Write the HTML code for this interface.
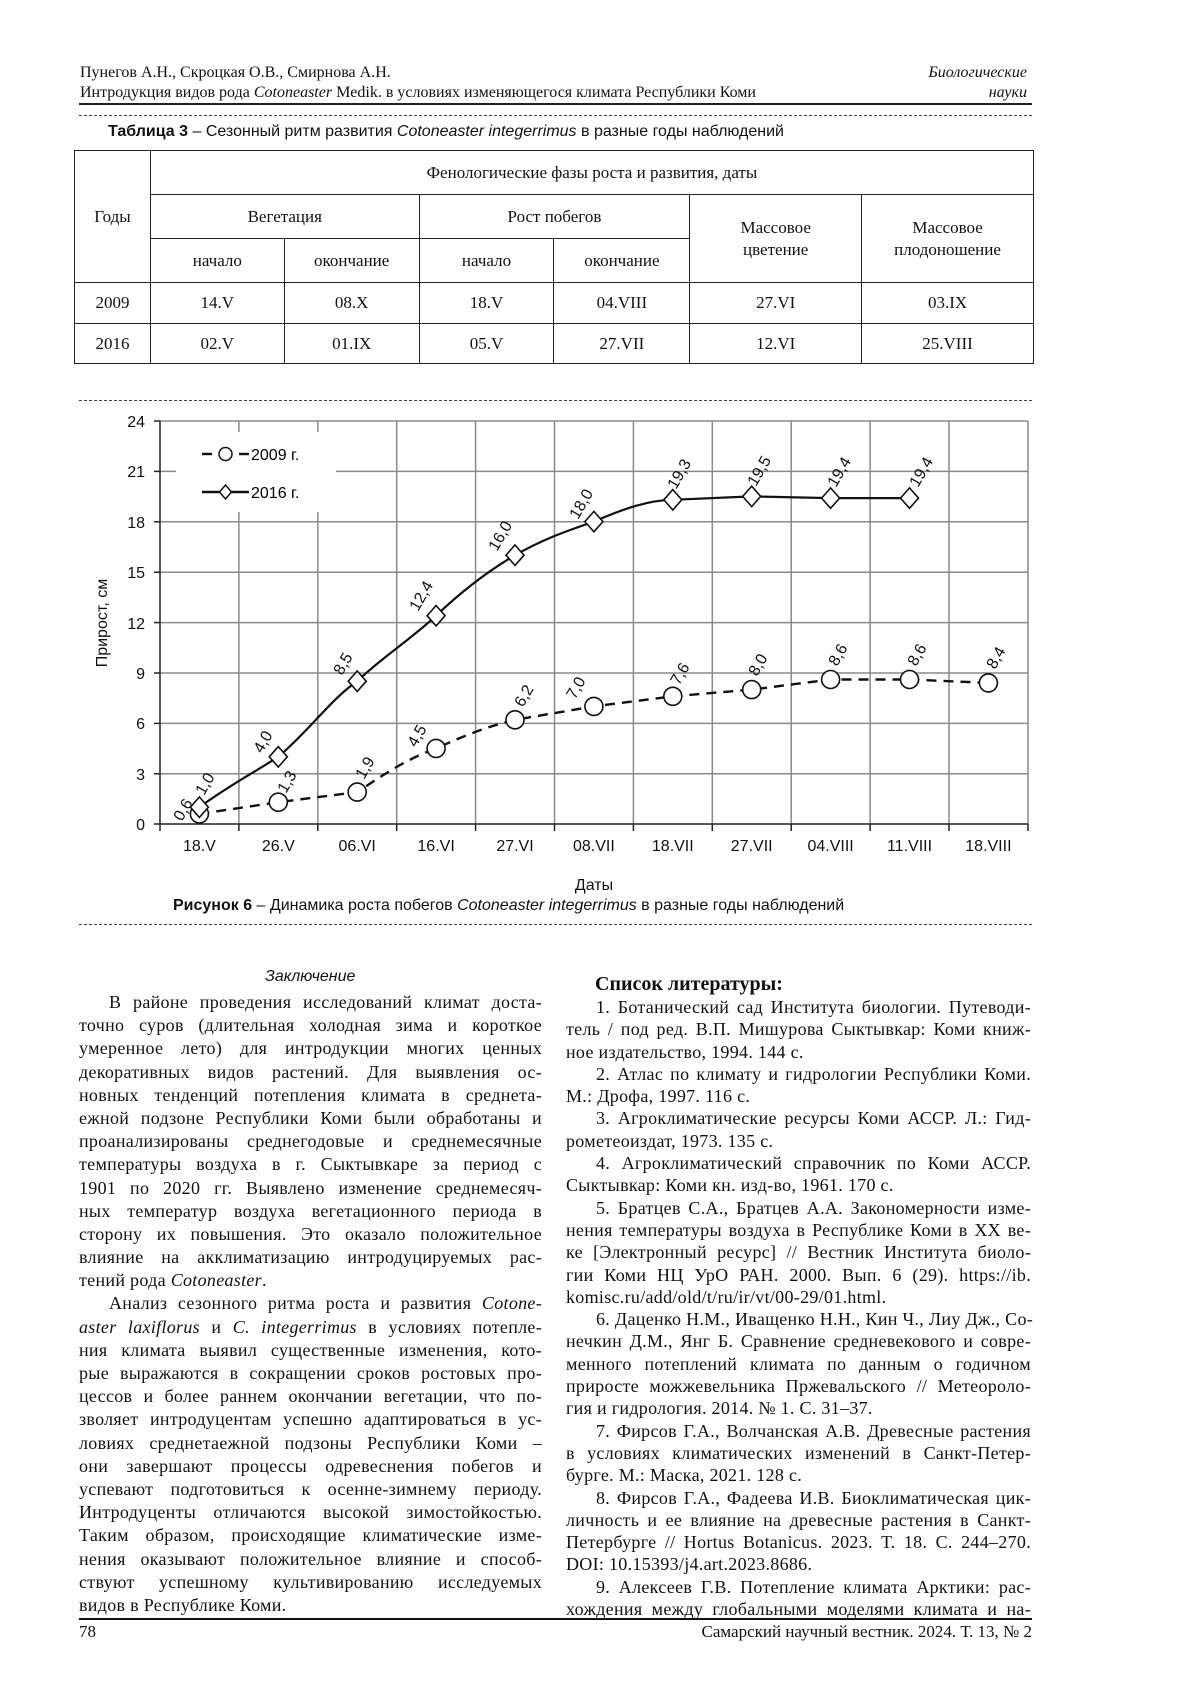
<!DOCTYPE html>
<html><head><meta charset="utf-8">
<style>
*{margin:0;padding:0;box-sizing:border-box}
body{width:1200px;height:1697px;background:#fff;position:relative;font-family:"Liberation Serif",serif;color:#111;overflow:hidden}
.a{position:absolute;white-space:nowrap}
.hd{font-size:16px;line-height:20px}
.dash{position:absolute;border-top:1px dashed #444;height:0}
table{position:absolute;left:74px;top:150px;width:960px;border-collapse:collapse;font-size:17px}
td{border:1.5px solid #222;text-align:center;vertical-align:middle;line-height:22px}
.col{position:absolute;font-size:18px;line-height:23.2px;letter-spacing:0.3px}
.col div{height:23.2px;text-align:justify;text-align-last:justify;white-space:nowrap;overflow:visible}
.col div.l{text-align-last:left}
.col div.i{padding-left:30px}
.rc{line-height:22.3px}
.rc div{height:22.3px}
.sans{font-family:"Liberation Sans",sans-serif}
</style></head><body>
<div class="a hd" style="left:80px;top:63px">Пунегов А.Н., Скроцкая О.В., Смирнова А.Н.</div>
<div class="a hd" style="left:80px;top:83px">Интродукция видов рода <i>Cotoneaster</i> Medik. в условиях изменяющегося климата Республики Коми</div>
<div class="a hd" style="right:173px;top:63px;font-style:italic">Биологические</div>
<div class="a hd" style="right:173px;top:83px;font-style:italic">науки</div>
<div style="position:absolute;left:79px;top:103px;width:953px;border-top:2px solid #222"></div>
<div class="dash" style="left:79px;top:115px;width:953px"></div>
<div class="a sans" style="left:108px;top:123px;font-size:16px">
<b>Таблица 3</b> – Сезонный ритм развития <i>Cotoneaster integerrimus</i> в разные годы наблюдений</div>
<table>
<colgroup><col style="width:76px"><col style="width:134px"><col style="width:135px"><col style="width:135px"><col style="width:136px"><col style="width:172px"><col style="width:172px"></colgroup>
<tr style="height:44px"><td rowspan="3">Годы</td><td colspan="6">Фенологические фазы роста и развития, даты</td></tr>
<tr style="height:44px"><td colspan="2">Вегетация</td><td colspan="2">Рост побегов</td><td rowspan="2">Массовое<br>цветение</td><td rowspan="2">Массовое<br>плодоношение</td></tr>
<tr style="height:44px"><td>начало</td><td>окончание</td><td>начало</td><td>окончание</td></tr>
<tr style="height:41px"><td>2009</td><td>14.V</td><td>08.X</td><td>18.V</td><td>04.VIII</td><td>27.VI</td><td>03.IX</td></tr>
<tr style="height:40px"><td>2016</td><td>02.V</td><td>01.IX</td><td>05.V</td><td>27.VII</td><td>12.VI</td><td>25.VIII</td></tr>
</table>
<div class="dash" style="left:79px;top:400px;width:953px"></div>

<svg class="a" style="left:0;top:0" width="1200" height="1697" font-family="Liberation Sans, sans-serif">
<g stroke="#8a8a8a" stroke-width="1.5">
<line x1="160" y1="421" x2="1028" y2="421"/><line x1="160" y1="471.4" x2="1028" y2="471.4"/><line x1="160" y1="521.8" x2="1028" y2="521.8"/><line x1="160" y1="572.2" x2="1028" y2="572.2"/><line x1="160" y1="622.6" x2="1028" y2="622.6"/><line x1="160" y1="673" x2="1028" y2="673"/><line x1="160" y1="723.4" x2="1028" y2="723.4"/><line x1="160" y1="773.8" x2="1028" y2="773.8"/>
<line x1="238.9" y1="421" x2="238.9" y2="824"/><line x1="317.8" y1="421" x2="317.8" y2="824"/><line x1="396.7" y1="421" x2="396.7" y2="824"/><line x1="475.6" y1="421" x2="475.6" y2="824"/><line x1="554.5" y1="421" x2="554.5" y2="824"/><line x1="633.4" y1="421" x2="633.4" y2="824"/><line x1="712.3" y1="421" x2="712.3" y2="824"/><line x1="791.2" y1="421" x2="791.2" y2="824"/><line x1="870.1" y1="421" x2="870.1" y2="824"/><line x1="949" y1="421" x2="949" y2="824"/><line x1="1028" y1="421" x2="1028" y2="824"/>
</g>
<rect x="176" y="432" width="160" height="80" fill="#fff"/>
<g stroke="#222" stroke-width="1.5">
<line x1="160" y1="421" x2="160" y2="824"/><line x1="154" y1="824" x2="1028" y2="824"/>
<line x1="154" y1="421" x2="160" y2="421"/><line x1="154" y1="471.4" x2="160" y2="471.4"/><line x1="154" y1="521.8" x2="160" y2="521.8"/><line x1="154" y1="572.2" x2="160" y2="572.2"/><line x1="154" y1="622.6" x2="160" y2="622.6"/><line x1="154" y1="673" x2="160" y2="673"/><line x1="154" y1="723.4" x2="160" y2="723.4"/><line x1="154" y1="773.8" x2="160" y2="773.8"/>
<line x1="160" y1="824" x2="160" y2="831"/><line x1="238.9" y1="824" x2="238.9" y2="831"/><line x1="317.8" y1="824" x2="317.8" y2="831"/><line x1="396.7" y1="824" x2="396.7" y2="831"/><line x1="475.6" y1="824" x2="475.6" y2="831"/><line x1="554.5" y1="824" x2="554.5" y2="831"/><line x1="633.4" y1="824" x2="633.4" y2="831"/><line x1="712.3" y1="824" x2="712.3" y2="831"/><line x1="791.2" y1="824" x2="791.2" y2="831"/><line x1="870.1" y1="824" x2="870.1" y2="831"/><line x1="949" y1="824" x2="949" y2="831"/><line x1="1028" y1="824" x2="1028" y2="831"/>
</g>
<g font-size="16" text-anchor="end" fill="#111">
<text x="145" y="427">24</text><text x="145" y="477">21</text><text x="145" y="528">18</text><text x="145" y="578">15</text><text x="145" y="629">12</text><text x="145" y="679">9</text><text x="145" y="729">6</text><text x="145" y="780">3</text><text x="145" y="830">0</text>
</g>
<g font-size="16" text-anchor="middle" fill="#111">
<text x="199.4" y="851">18.V</text><text x="278.3" y="851">26.V</text><text x="357.2" y="851">06.VI</text><text x="436.1" y="851">16.VI</text><text x="515" y="851">27.VI</text><text x="593.9" y="851">08.VII</text><text x="672.8" y="851">18.VII</text><text x="751.7" y="851">27.VII</text><text x="830.6" y="851">04.VIII</text><text x="909.5" y="851">11.VIII</text><text x="988.4" y="851">18.VIII</text>
<text x="594" y="890">Даты</text>
<text transform="translate(107,623) rotate(-90)">Прирост,  см</text>
</g>
<path d="M199.4,807.2 C230,785 250,775 278.3,756.8 C310,730 330,700 357.2,681.2 C385,655 410,640 436.1,615.7 C465,588 490,570 515,555.2 C545,538 570,530 593.9,521.6 C625,508 650,500 672.8,499.8 L751.7,496.4 L830.6,498.1 L909.5,498.1" fill="none" stroke="#111" stroke-width="2.2"/>
<path d="M199.4,813.9 L278.3,802.2 L357.2,792.1 C390,770 410,758 436.1,748.4 C470,733 490,726 515,719.8 L593.9,706.4 L672.8,696.3 L751.7,689.6 L830.6,679.5 L909.5,679.5 L988.4,682.9" fill="none" stroke="#111" stroke-width="2.4" stroke-dasharray="10,7"/>
<g fill="#fff" stroke="#111" stroke-width="1.6">
<circle cx="199.4" cy="813.9" r="9"/><circle cx="278.3" cy="802.2" r="9"/><circle cx="357.2" cy="792.1" r="9"/><circle cx="436.1" cy="748.4" r="9"/><circle cx="515" cy="719.8" r="9"/><circle cx="593.9" cy="706.4" r="9"/><circle cx="672.8" cy="696.3" r="9"/><circle cx="751.7" cy="689.6" r="9"/><circle cx="830.6" cy="679.5" r="9"/><circle cx="909.5" cy="679.5" r="9"/><circle cx="988.4" cy="682.9" r="9"/>
<path d="M199.4,797 l9,10.2 l-9,10.2 l-9,-10.2z"/><path d="M278.3,746.6 l9,10.2 l-9,10.2 l-9,-10.2z"/><path d="M357.2,671 l9,10.2 l-9,10.2 l-9,-10.2z"/><path d="M436.1,605.5 l9,10.2 l-9,10.2 l-9,-10.2z"/><path d="M515,545 l9,10.2 l-9,10.2 l-9,-10.2z"/><path d="M593.9,511.4 l9,10.2 l-9,10.2 l-9,-10.2z"/><path d="M672.8,489.6 l9,10.2 l-9,10.2 l-9,-10.2z"/><path d="M751.7,486.2 l9,10.2 l-9,10.2 l-9,-10.2z"/><path d="M830.6,487.9 l9,10.2 l-9,10.2 l-9,-10.2z"/><path d="M909.5,487.9 l9,10.2 l-9,10.2 l-9,-10.2z"/>
</g>
<g font-size="16" fill="#111">
<text transform="translate(182,822) rotate(-60)">0,6</text>
<text transform="translate(204,796) rotate(-60)">1,0</text>
<text transform="translate(262,754) rotate(-60)">4,0</text>
<text transform="translate(286,794) rotate(-60)">1,3</text>
<text transform="translate(342,676) rotate(-60)">8,5</text>
<text transform="translate(364,780) rotate(-60)">1,9</text>
<text transform="translate(418,612) rotate(-60)">12,4</text>
<text transform="translate(416,748) rotate(-60)">4,5</text>
<text transform="translate(497,552) rotate(-60)">16,0</text>
<text transform="translate(523,708) rotate(-60)">6,2</text>
<text transform="translate(578,520) rotate(-60)">18,0</text>
<text transform="translate(575,700) rotate(-60)">7,0</text>
<text transform="translate(676,490) rotate(-60)">19,3</text>
<text transform="translate(679,686) rotate(-60)">7,6</text>
<text transform="translate(756,487) rotate(-60)">19,5</text>
<text transform="translate(757,677) rotate(-60)">8,0</text>
<text transform="translate(836,488) rotate(-60)">19,4</text>
<text transform="translate(837,667) rotate(-60)">8,6</text>
<text transform="translate(918,488) rotate(-60)">19,4</text>
<text transform="translate(916,667) rotate(-60)">8,6</text>
<text transform="translate(995,670) rotate(-60)">8,4</text>
</g>
<line x1="202" y1="454" x2="212" y2="454" stroke="#111" stroke-width="2.4"/>
<line x1="239" y1="454" x2="249" y2="454" stroke="#111" stroke-width="2.4"/>
<circle cx="225.5" cy="454" r="6.5" fill="#fff" stroke="#111" stroke-width="1.5"/>
<line x1="202" y1="492" x2="249" y2="492" stroke="#111" stroke-width="2.4"/>
<path d="M225.5,485 l6,7 l-6,7 l-6,-7z" fill="#fff" stroke="#111" stroke-width="1.5"/>
<text x="251" y="460" font-size="16">2009 г.</text>
<text x="251" y="498" font-size="16">2016 г.</text>
</svg>
<div class="a sans" style="left:173px;top:897px;font-size:16px"><b>Рисунок 6</b> – Динамика роста побегов <i>Cotoneaster integerrimus</i> в разные годы наблюдений</div>
<div class="dash" style="left:79px;top:924px;width:953px"></div>

<div class="a sans" style="left:265px;top:968px;font-size:16px;font-style:italic">Заключение</div>
<div class="col" style="left:79px;top:991px;width:463px">
<div class="i">В районе проведения исследований климат доста-</div>
<div>точно суров (длительная холодная зима и короткое</div>
<div>умеренное лето) для интродукции многих ценных</div>
<div>декоративных видов растений. Для выявления ос-</div>
<div>новных тенденций потепления климата в среднета-</div>
<div>ежной подзоне Республики Коми были обработаны и</div>
<div>проанализированы среднегодовые и среднемесячные</div>
<div>температуры воздуха в г. Сыктывкаре за период с</div>
<div>1901 по 2020 гг. Выявлено изменение среднемесяч-</div>
<div>ных температур воздуха вегетационного периода в</div>
<div>сторону их повышения. Это оказало положительное</div>
<div>влияние на акклиматизацию интродуцируемых рас-</div>
<div class="l">тений рода <i>Cotoneaster</i>.</div>
<div class="i">Анализ сезонного ритма роста и развития <i>Cotone-</i></div>
<div><i>aster laxiflorus</i> и <i>C. integerrimus</i> в условиях потепле-</div>
<div>ния климата выявил существенные изменения, кото-</div>
<div>рые выражаются в сокращении сроков ростовых про-</div>
<div>цессов и более раннем окончании вегетации, что по-</div>
<div>зволяет интродуцентам успешно адаптироваться в ус-</div>
<div>ловиях среднетаежной подзоны Республики Коми –</div>
<div>они завершают процессы одревеснения побегов и</div>
<div>успевают подготовиться к осенне-зимнему периоду.</div>
<div>Интродуценты отличаются высокой зимостойкостью.</div>
<div>Таким образом, происходящие климатические изме-</div>
<div>нения оказывают положительное влияние и способ-</div>
<div>ствуют успешному культивированию исследуемых</div>
<div class="l">видов в Республике Коми.</div>
</div>

<div class="a" style="left:595px;top:973px;font-size:20px;font-weight:bold">Список литературы:</div>
<div class="col rc" style="left:566px;top:996px;width:465px">
<div class="i">1. Ботанический сад Института биологии. Путеводи-</div>
<div>тель / под ред. В.П. Мишурова Сыктывкар: Коми книж-</div>
<div class="l">ное издательство, 1994. 144 с.</div>
<div class="i">2. Атлас по климату и гидрологии Республики Коми.</div>
<div class="l">М.: Дрофа, 1997. 116 с.</div>
<div class="i">3. Агроклиматические ресурсы Коми АССР. Л.: Гид-</div>
<div class="l">рометеоиздат, 1973. 135 с.</div>
<div class="i">4. Агроклиматический справочник по Коми АССР.</div>
<div class="l">Сыктывкар: Коми кн. изд-во, 1961. 170 с.</div>
<div class="i">5. Братцев С.А., Братцев А.А. Закономерности изме-</div>
<div>нения температуры воздуха в Республике Коми в XX ве-</div>
<div>ке [Электронный ресурс] // Вестник Института биоло-</div>
<div>гии Коми НЦ УрО РАН. 2000. Вып. 6 (29). https://ib.</div>
<div class="l">komisc.ru/add/old/t/ru/ir/vt/00-29/01.html.</div>
<div class="i">6. Даценко Н.М., Иващенко Н.Н., Кин Ч., Лиу Дж., Со-</div>
<div>нечкин Д.М., Янг Б. Сравнение средневекового и совре-</div>
<div>менного потеплений климата по данным о годичном</div>
<div>приросте можжевельника Пржевальского // Метеороло-</div>
<div class="l">гия и гидрология. 2014. № 1. С. 31–37.</div>
<div class="i">7. Фирсов Г.А., Волчанская А.В. Древесные растения</div>
<div>в условиях климатических изменений в Санкт-Петер-</div>
<div class="l">бурге. М.: Маска, 2021. 128 с.</div>
<div class="i">8. Фирсов Г.А., Фадеева И.В. Биоклиматическая цик-</div>
<div>личность и ее влияние на древесные растения в Санкт-</div>
<div>Петербурге // Hortus Botanicus. 2023. Т. 18. С. 244–270.</div>
<div class="l">DOI: 10.15393/j4.art.2023.8686.</div>
<div class="i">9. Алексеев Г.В. Потепление климата Арктики: рас-</div>
<div>хождения между глобальными моделями климата и на-</div>
</div>

<div style="position:absolute;left:79px;top:1618px;width:953px;border-top:2.5px solid #111"></div>
<div class="a" style="left:79px;top:1622px;font-size:17px">78</div>
<div class="a" style="right:168px;top:1622px;font-size:17px">Самарский научный вестник. 2024. Т. 13, № 2</div>
</body></html>
